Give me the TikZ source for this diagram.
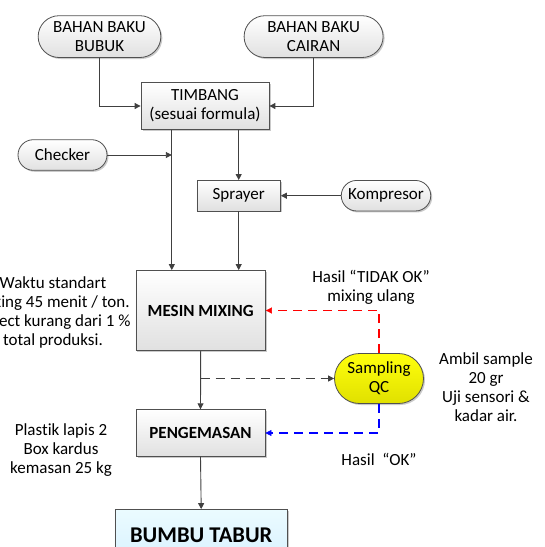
\documentclass[tikz,border=0pt]{standalone}
\usepackage{fontspec}
\setmainfont{Carlito}[Ligatures=NoCommon]
\usetikzlibrary{shapes.misc,shadows,arrows.meta}
\definecolor{lnc}{HTML}{404040}
\definecolor{bordc}{HTML}{505050}
\definecolor{qcred}{HTML}{FF0000}
\definecolor{qcblue}{HTML}{0000FF}
\tikzset{
  every node/.style={font=\fontsize{17}{19}\selectfont, inner sep=0pt},
  boxbase/.style={draw=bordc, line width=0.8pt, top color=white, bottom color=black!12,
     drop shadow={shadow xshift=1.5pt, shadow yshift=-1.5pt, opacity=0.35, fill=black!60}},
  procbox/.style={boxbase, rectangle, align=center},
  termbox/.style={boxbase, rounded rectangle, align=center},
  arr/.style={draw=lnc, line width=0.9pt, -{Triangle[length=6pt,width=6pt]}},
  dashgray/.style={arr, line width=1pt, dash pattern=on 9pt off 6pt},
  dashred/.style={draw=qcred, line width=1.8pt, dash pattern=on 9pt off 6pt, -{Triangle[length=6pt,width=6pt,fill=qcred,line width=0.5pt]}},
  dashblue/.style={draw=qcblue, line width=1.8pt, dash pattern=on 9pt off 6pt, -{Triangle[length=6pt,width=6pt,fill=qcblue,line width=0.5pt]}},
  note/.style={align=center, text=black}
}
\begin{document}
\begin{tikzpicture}[x=1pt,y=-1pt]
\useasboundingbox (0,0) rectangle (545,547);
% nodes
\node[termbox, minimum width=122.7pt, minimum height=41.8pt] (bubuk) at (99.5,36.6) {BAHAN BAKU\\BUBUK};
\node[termbox, minimum width=139pt, minimum height=41.8pt] (cairan) at (313.6,36.6) {BAHAN BAKU\\CAIRAN};
\node[procbox, minimum width=128pt, minimum height=46.6pt] (timbang) at (205,106) {TIMBANG\\(sesuai formula)};
\node[termbox, minimum width=89pt, minimum height=30.6pt] (checker) at (62.5,155) {Checker};
\node[procbox, minimum width=83.5pt, minimum height=30.5pt] (sprayer) at (238.7,195.7) {Sprayer};
\node[termbox, minimum width=89.5pt, minimum height=30.5pt] (kompresor) at (386,195.7) {Kompresor};
\node[procbox, minimum width=129.5pt, minimum height=80pt, font=\fontsize{17}{19}\selectfont\bfseries] (mixing) at (200.7,310.5) {MESIN MIXING};
\node[termbox, minimum width=89pt, minimum height=50pt, top color=yellow!95!white, bottom color=yellow!88!black] (sampling) at (379,378.5) {Sampling\\QC};
\node[procbox, minimum width=129pt, minimum height=46.6pt, font=\fontsize{17}{19}\selectfont\bfseries] (pengemasan) at (200.5,433) {PENGEMASAN};
\node[procbox, minimum width=172.5pt, minimum height=52pt, top color=blue!20!cyan!8!white, bottom color=blue!35!cyan!15!white,
  font=\fontsize{22.5}{26}\selectfont\bfseries] (bumbu) at (201.2,535.5) {BUMBU TABUR};
% helper coordinates
\coordinate (c1) at (171.8,0);
\coordinate (rbend) at (sampling.north |- mixing.east);
\coordinate (bbend) at (sampling.south |- pengemasan.east);
% connectors
\draw[arr] (bubuk.south) |- (timbang.west);
\draw[arr] (cairan.south) |- (timbang.east);
\draw[arr] (timbang.south -| c1) -- (mixing.north -| c1);
\draw[arr] (timbang.south -| sprayer.north) -- (sprayer.north);
\draw[arr] (checker.east) -- (checker.east -| c1);
\draw[arr] (kompresor.west) -- (sprayer.east);
\draw[arr] (sprayer.south) -- (mixing.north -| sprayer.south);
\draw[arr] (mixing.south) -- (pengemasan.north);
\coordinate (tap) at (mixing.south |- sampling.west);
\draw[dashgray] (tap) -- (sampling.west);
\draw[dashred] (sampling.north) -- (rbend) -- (mixing.east);
\draw[dashblue] (sampling.south) -- (bbend) -- (pengemasan.east);
\draw[arr] (pengemasan.south) -- (bumbu.north);
% labels
\node[note] (lblnok) at (371,287) {Hasil “TIDAK OK”\\mixing ulang};
\node[note] (lblok) at (379,459) {Hasil\ \ “OK”};
\node[note] (lblright) at (486,387) {Ambil sample\\20 gr\\Uji sensori \&\\kadar air.};
\node[note] (lblleft) at (53,312) {Waktu standart\\mixing 45 menit / ton.\\Defect kurang dari 1 \%\\total produksi.};
\node[note] (lblpack) at (61,450.5) {Plastik lapis 2\\Box kardus\\kemasan 25 kg};
\end{tikzpicture}
\end{document}
